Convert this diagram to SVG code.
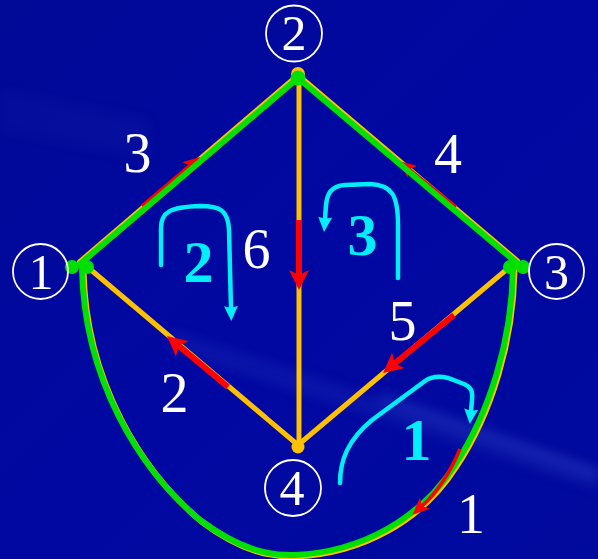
<svg xmlns="http://www.w3.org/2000/svg" width="598" height="559" viewBox="0 0 598 559">
<style>
.org{stroke:#ffc000;stroke-width:5;fill:none;stroke-linecap:round}
.grn{stroke:#00e000;stroke-width:6;fill:none;stroke-linecap:round}
.red{stroke:#ff0000;fill:none}
.cy{stroke:#00eeff;stroke-width:4.5;fill:none;stroke-linecap:round}
.elab{font-family:"Liberation Serif","Times New Roman",serif;font-size:56px;fill:#ffffff;text-anchor:middle}
.clab{font-family:"Liberation Serif","Times New Roman",serif;font-size:50px;fill:#ffffff;text-anchor:middle}
.ring{fill:none;stroke:#ffffff;stroke-width:1.8}
.llab{font-family:"Liberation Serif","Times New Roman",serif;font-size:60px;font-weight:bold;fill:#00eeff;text-anchor:middle}
</style>
<defs>
<linearGradient id="bg" x1="0" y1="0" x2="1" y2="1">
<stop offset="0" stop-color="#000a96"/>
<stop offset="0.5" stop-color="#0008a2"/>
<stop offset="1" stop-color="#000a9c"/>
</linearGradient>
<filter id="blur" x="-20%" y="-50%" width="140%" height="200%"><feGaussianBlur stdDeviation="6"/></filter>
<marker id="headL" viewBox="0 0 20 20" refX="5" refY="10" markerWidth="20" markerHeight="20" markerUnits="userSpaceOnUse" orient="auto">
<path d="M0,0 L20,10 L0,20 L5,10 z" fill="#ff0000"/>
</marker>
<marker id="headS" viewBox="0 0 17 15" refX="4" refY="7.5" markerWidth="17" markerHeight="15" markerUnits="userSpaceOnUse" orient="auto">
<path d="M0,0 L17,7.5 L0,15 L4,7.5 z" fill="#ff0000"/>
</marker>
<marker id="headC" viewBox="0 0 15 14" refX="2" refY="7" markerWidth="15" markerHeight="14" markerUnits="userSpaceOnUse" orient="auto">
<path d="M0,0 L15,7 L0,14 L2,7 z" fill="#00eeff"/>
</marker>
</defs>
<rect width="598" height="559" fill="url(#bg)"/>
<g id="background-glow" opacity="0.5">
<path d="M170,330 L598,470 L598,490 L170,350 z" fill="#3a55d0" opacity="0.35" filter="url(#blur)"/>
<path d="M380,392 L598,468 L598,480 L380,404 z" fill="#4a65e0" opacity="0.5" filter="url(#blur)"/>
<path d="M0,90 L150,120 L150,160 L0,130 z" fill="#2030b0" opacity="0.3" filter="url(#blur)"/>
</g>
<g id="connectors">
<line class="org" x1="80" y1="262" x2="298" y2="75.5" style="stroke-width:6"/>
<line class="org" x1="298" y1="75.5" x2="517" y2="261" style="stroke-width:6"/>
<line class="org" x1="299" y1="78" x2="299" y2="447"/>
<line class="org" x1="84" y1="264" x2="298" y2="445"/>
<line class="org" x1="512" y1="265" x2="298" y2="445"/>
<path class="org" transform="translate(1.5,1.5)" d="M82,268 C84,380 140,470 200,520 C240,550 270,556 295,555 C360,552 420,520 455,465 C490,412 512,340 513,268" style="stroke-width:6"/>
<line class="red" x1="299" y1="220" x2="299" y2="275" stroke-width="6" marker-end="url(#headL)"/>
<line class="red" x1="228" y1="387" x2="178.5" y2="345.6" stroke-width="6" marker-end="url(#headL)"/>
<line class="red" x1="454" y1="315" x2="394.6" y2="363.5" stroke-width="6" marker-end="url(#headL)"/>
<line class="red" x1="142" y1="206" x2="190.1" y2="165.4" stroke-width="3.5" marker-end="url(#headS)"/>
<line class="red" x1="456" y1="207" x2="409.1" y2="169.2" stroke-width="3.5" marker-end="url(#headS)"/>
<line class="grn" x1="80" y1="264" x2="298" y2="78"/>
<line class="grn" x1="298" y1="78" x2="517" y2="263"/>
<path class="grn" d="M82,268 C84,380 140,470 200,520 C240,550 270,556 295,555 C360,552 420,520 455,465 C490,412 512,340 513,268"/>
<path class="red" d="M460,449 Q445,485 422,506" stroke-width="3.5" marker-end="url(#headS)"/>
</g>
<g id="edge-labels">
<text class="elab" x="137.5" y="172">3</text>
<text class="elab" x="448" y="173">4</text>
<text class="elab" x="256.5" y="268">6</text>
<text class="elab" x="402.5" y="340">5</text>
<text class="elab" x="174.5" y="412">2</text>
<text class="elab" x="471" y="533">1</text>
</g>
<g id="loops">
<path class="cy" d="M161,265 L161,228 C161,212 170,207 200,206 C220,206 228,210 229,230 L231,308" marker-end="url(#headC)"/>
<path class="cy" d="M398,278 L398,225 C398,195 392,185 370,184 L345,185 C330,186 327,195 326,205 L325,219" marker-end="url(#headC)"/>
<path class="cy" d="M340,483 C340,460 348,440 372,420 L425,381 C432,376 440,376 448,378 L464,384 C471,387 473,391 472,400 L471,411" marker-end="url(#headC)"/>
<text class="llab" x="198.5" y="282">2</text>
<text class="llab" x="362.5" y="255">3</text>
<text class="llab" x="416.5" y="460">1</text>
</g>
<g id="node1">
<circle cx="72" cy="267" r="7" fill="#00e000"/>
<circle cx="87" cy="267" r="7" fill="#00e000"/>
<circle class="ring" cx="40.5" cy="271.5" r="27.5"/>
<text class="clab" x="41" y="289">1</text>
</g>
<g id="node2">
<circle cx="298" cy="74" r="7" fill="#ffc000"/>
<circle cx="298" cy="78" r="7.5" fill="#00e000"/>
<circle class="ring" cx="294" cy="33.5" r="28"/>
<text class="clab" x="294" y="50">2</text>
</g>
<g id="node3">
<circle cx="510" cy="267" r="7" fill="#00e000"/>
<circle cx="523" cy="267" r="7" fill="#00e000"/>
<circle class="ring" cx="556.5" cy="271.5" r="27.5"/>
<text class="clab" x="556.5" y="289">3</text>
</g>
<g id="node4">
<circle cx="298" cy="447" r="6.5" fill="#ffc000"/>
<circle class="ring" cx="293" cy="488" r="28"/>
<text class="clab" x="292" y="505">4</text>
</g>
</svg>
